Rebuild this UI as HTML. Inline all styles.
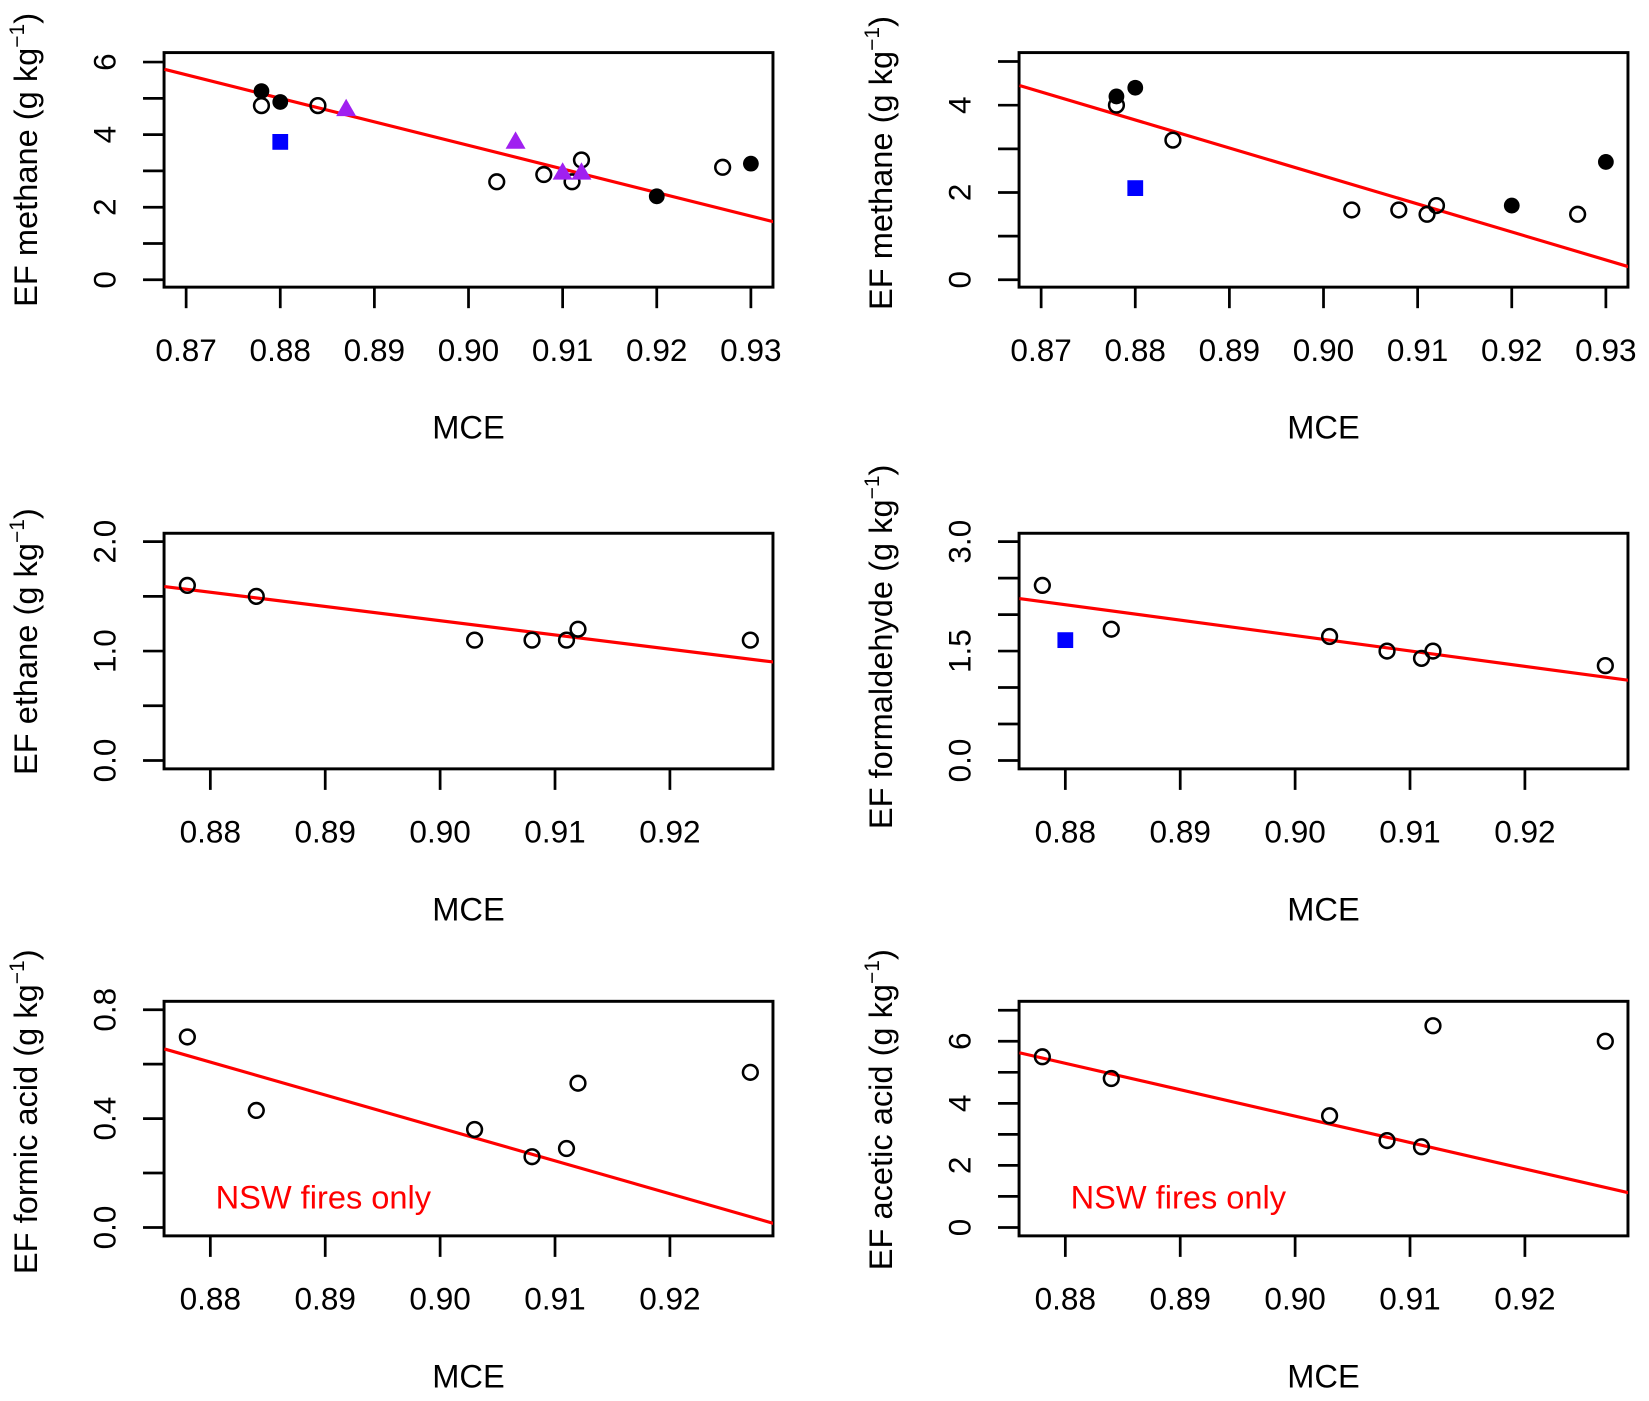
<!DOCTYPE html>
<html><head><meta charset="utf-8"><style>
html,body{margin:0;padding:0;background:#fff;}
svg{display:block;}
text{font-family:"Liberation Sans",Arial,sans-serif;fill:#000;}
</style></head><body>
<svg id="fig" width="1649" height="1401" viewBox="0 0 1568 1332" preserveAspectRatio="none" xmlns="http://www.w3.org/2000/svg"></svg>
<script>
// Panel 1: methane (left)
const p1OpenX=[0.878,0.884,0.903,0.908,0.911,0.912,0.927];
const p1OpenY=[4.8,4.8,2.7,2.9,2.7,3.3,3.1];
const p1FillX=[0.878,0.880,0.920,0.930];
const p1FillY=[5.2,4.9,2.3,3.2];
const p1SqX=[0.880];
const p1SqY=[3.8];
const p1TriX=[0.887,0.905,0.910,0.912];
const p1TriY=[4.7,3.8,2.95,2.95];
const p1Fit=[0.8677,5.8,0.9324,1.6];
// Panel 2: methane (right)
const p2OpenX=[0.878,0.884,0.903,0.908,0.911,0.912,0.927];
const p2OpenY=[4.0,3.2,1.6,1.6,1.5,1.7,1.5];
const p2FillX=[0.878,0.880,0.920,0.930];
const p2FillY=[4.2,4.4,1.7,2.7];
const p2SqX=[0.880];
const p2SqY=[2.1];
const p2Fit=[0.8677,4.45,0.9324,0.3];
// Panel 3: ethane
const p3OpenX=[0.878,0.884,0.903,0.908,0.911,0.912,0.927];
const p3OpenY=[1.6,1.5,1.1,1.1,1.1,1.2,1.1];
const p3Fit=[0.876,1.59,0.929,0.9];
// Panel 4: formaldehyde
const p4OpenX=[0.878,0.884,0.903,0.908,0.911,0.912,0.927];
const p4OpenY=[2.4,1.8,1.7,1.5,1.4,1.5,1.3];
const p4SqX=[0.880];
const p4SqY=[1.65];
const p4Fit=[0.876,2.22,0.929,1.1];
// Panel 5: formic acid
const p5OpenX=[0.878,0.884,0.903,0.908,0.911,0.912,0.927];
const p5OpenY=[0.70,0.43,0.36,0.26,0.29,0.53,0.57];
const p5Fit=[0.876,0.656,0.929,0.015];
// Panel 6: acetic acid
const p6OpenX=[0.878,0.884,0.903,0.908,0.911,0.912,0.927];
const p6OpenY=[5.5,4.8,3.6,2.8,2.6,6.5,6.0];
const p6Fit=[0.876,5.63,0.929,1.12];
// ticks
const xTicksWide=[0.87,0.88,0.89,0.90,0.91,0.92,0.93];
const xTickLabelsWide=["0.87","0.88","0.89","0.90","0.91","0.92","0.93"];
const xTicksNarrow=[0.88,0.89,0.90,0.91,0.92];
const xTickLabelsNarrow=["0.88","0.89","0.90","0.91","0.92"];
const y1Ticks=[0,1,2,3,4,5,6]; const y1Labels=["0","","2","","4","","6"];
const y2Ticks=[0,1,2,3,4,5]; const y2Labels=["0","","2","","4",""];
const y3Ticks=[0,0.5,1,1.5,2]; const y3Labels=["0.0","","1.0","","2.0"];
const y4Ticks=[0,0.5,1,1.5,2,2.5,3]; const y4Labels=["0.0","","","1.5","","","3.0"];
const y5Ticks=[0,0.2,0.4,0.6,0.8]; const y5Labels=["0.0","","0.4","","0.8"];
const y6Ticks=[0,1,2,3,4,5,6,7]; const y6Labels=["0","","2","","4","","6",""];

const NS="http://www.w3.org/2000/svg";
const svg=document.getElementById('fig');
function mk(tag,attrs,parent){const e=document.createElementNS(NS,tag);for(const k in attrs)e.setAttribute(k,attrs[k]);(parent||svg).appendChild(e);return e;}

function panel(cfg){
  const g=mk('g',{});
  
  
  const L=cfg.box[0],R=cfg.box[1],T=cfg.box[2],B=cfg.box[3];
  const sx=v=>cfg.xa[0]+(v-cfg.xa[1])*(cfg.xa[2]-cfg.xa[0])/(cfg.xa[3]-cfg.xa[1]);
  const sy=v=>cfg.ya[0]+(v-cfg.ya[1])*(cfg.ya[2]-cfg.ya[0])/(cfg.ya[3]-cfg.ya[1]);
  const cid='c'+cfg.name;
  const cp=mk('clipPath',{id:cid},g); mk('rect',{x:L,y:T,width:R-L,height:B-T},cp);
  const box=mk('rect',{x:L,y:T,width:R-L,height:B-T,fill:'none',stroke:'#000','stroke-width':2.8},g);
  
  
  cfg.xt.forEach((v,i)=>{
    const x=sx(v);
    const t=mk('line',{x1:x,x2:x,y1:B,y2:B+20,stroke:'#000','stroke-width':2.6},g);
    
    
    const lb=mk('text',{x:x,y:B+70,'font-size':30,'text-anchor':'middle'},g);
    lb.textContent=cfg.xl[i];
    
    
  });
  const xl=mk('text',{x:(L+R)/2,y:B+144,'font-size':31,'text-anchor':'middle'},g);
  xl.textContent='MCE';
  
  
  cfg.yt.forEach((v,i)=>{
    const y=sy(v);
    const t=mk('line',{x1:L-20,x2:L,y1:y,y2:y,stroke:'#000','stroke-width':2.6},g);
    
    
    if(cfg.yl[i]){
      const lb=mk('text',{x:L-46,y:y,'font-size':30,'text-anchor':'middle',transform:`rotate(-90 ${L-46} ${y})`},g);
      lb.textContent=cfg.yl[i];
      
      
    }
  });
  const yx=L-121, yy=cfg.ymid;
  const yt=mk('text',{x:yx,y:yy,'font-size':31,'text-anchor':'middle',transform:`rotate(-90 ${yx} ${yy})`},g);
  
  
  yt.appendChild(document.createTextNode(cfg.ylab+' (g kg'));
  const sup=mk('tspan',{'font-size':20,dy:-12},yt); sup.textContent='−1';
  const cl=mk('tspan',{dy:12},yt); cl.textContent=')';
  const f=cfg.fit;
  const fl=mk('line',{x1:sx(f[0]),y1:sy(f[1]),x2:sx(f[2]),y2:sy(f[3]),stroke:'#ff0000','stroke-width':3,'clip-path':`url(#${cid})`},g);
  
  
  (cfg.open||[[],[]])[0].forEach((v,i)=>{
    const c=mk('circle',{cx:sx(v),cy:sy(cfg.open[1][i]),r:7,fill:'none',stroke:'#000','stroke-width':2.4},g);
    
    
  });
  (cfg.fill||[[],[]])[0].forEach((v,i)=>{
    const c=mk('circle',{cx:sx(v),cy:sy(cfg.fill[1][i]),r:7.5,fill:'#000'},g);
    
    
  });
  (cfg.sq||[[],[]])[0].forEach((v,i)=>{
    const c=mk('rect',{x:sx(v)-7.5,y:sy(cfg.sq[1][i])-7.5,width:15,height:15,fill:'#0000ff'},g);
    
    
  });
  (cfg.tri||[[],[]])[0].forEach((v,i)=>{
    const x=sx(v),y=sy(cfg.tri[1][i]);
    const c=mk('polygon',{points:`${x},${y-10} ${x-9.5},${y+6.5} ${x+9.5},${y+6.5}`,fill:'#a020f0'},g);
    
    
  });
  if(cfg.note){
    const n=mk('text',{x:L+49,y:B-26,'font-size':31,fill:'#ff0000'},g);
    n.style.fill='#ff0000';
    n.textContent=cfg.note;
    
    
  }
}
panel({name:'panel-methane-left',box:[156,735,50,273],xa:[177,0.87,714,0.93],ya:[266,0,59,6],
  xt:xTicksWide,xl:xTickLabelsWide,yt:y1Ticks,yl:y1Labels,ylab:'EF methane',ymid:152,
  open:[p1OpenX,p1OpenY],fill:[p1FillX,p1FillY],sq:[p1SqX,p1SqY],tri:[p1TriX,p1TriY],fit:p1Fit});
panel({name:'panel-methane-right',box:[969,1548,50,273],xa:[990,0.87,1527,0.93],ya:[266,0,100,4],
  xt:xTicksWide,xl:xTickLabelsWide,yt:y2Ticks,yl:y2Labels,ylab:'EF methane',ymid:155,
  open:[p2OpenX,p2OpenY],fill:[p2FillX,p2FillY],sq:[p2SqX,p2SqY],fit:p2Fit});
panel({name:'panel-ethane',box:[156,735,507,731],xa:[200,0.88,637,0.92],ya:[723,0,515,2],
  xt:xTicksNarrow,xl:xTickLabelsNarrow,yt:y3Ticks,yl:y3Labels,ylab:'EF ethane',ymid:610,
  open:[p3OpenX,p3OpenY],fit:p3Fit});
panel({name:'panel-formaldehyde',box:[969,1548,507,731],xa:[1013,0.88,1450,0.92],ya:[723,0,515,3],
  xt:xTicksNarrow,xl:xTickLabelsNarrow,yt:y4Ticks,yl:y4Labels,ylab:'EF formaldehyde',ymid:615,
  open:[p4OpenX,p4OpenY],sq:[p4SqX,p4SqY],fit:p4Fit});
panel({name:'panel-formic-acid',box:[156,735,952,1175],xa:[200,0.88,637,0.92],ya:[1167,0,960,0.8],
  xt:xTicksNarrow,xl:xTickLabelsNarrow,yt:y5Ticks,yl:y5Labels,ylab:'EF formic acid',ymid:1057,
  open:[p5OpenX,p5OpenY],fit:p5Fit,note:'NSW fires only'});
panel({name:'panel-acetic-acid',box:[969,1548,952,1175],xa:[1013,0.88,1450,0.92],ya:[1167,0,990,6],
  xt:xTicksNarrow,xl:xTickLabelsNarrow,yt:y6Ticks,yl:y6Labels,ylab:'EF acetic acid',ymid:1055,
  open:[p6OpenX,p6OpenY],fit:p6Fit,note:'NSW fires only'});
</script>
</body></html>
